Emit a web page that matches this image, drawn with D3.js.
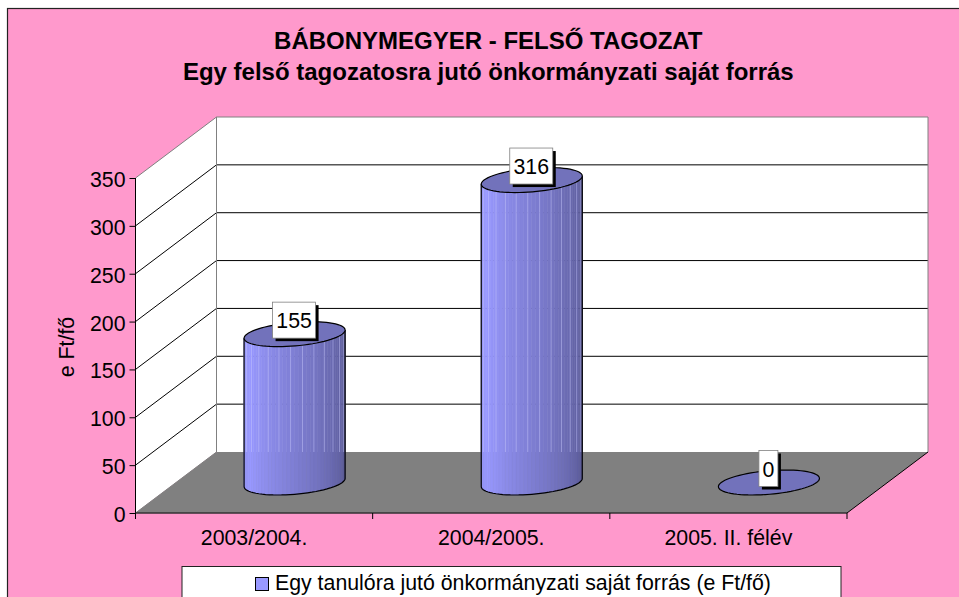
<!DOCTYPE html>
<html>
<head>
<meta charset="utf-8">
<script src="https://cdn.jsdelivr.net/npm/d3@7"></script>
<style>
  html, body { margin: 0; padding: 0; background: #fff; }
  svg { display: block; }
  text { font-family: "Liberation Sans", Arial, sans-serif; fill: #000; }
</style>
</head>
<body>
<div id="chart"></div>
<script>
const categories = ["2003/2004.", "2004/2005.", "2005. II. félév"];
const values = [155, 316, 0];
const valueTicks = [0, 50, 100, 150, 200, 250, 300, 350];
const titleLines = ["BÁBONYMEGYER - FELSŐ TAGOZAT", "Egy felső tagozatosra jutó önkormányzati saját forrás"];
const yAxisTitle = "e Ft/fő";
const legendLabel = "Egy tanulóra jutó önkormányzati saját forrás (e Ft/fő)";

const width = 959, height = 597;
const front = { left: 135.5, right: 847, bottom: 513, top: 178 };
const depth = { x: 81, y: -61 };
const labelSize = 21.3;

const svg = d3.select("#chart").append("svg")
  .attr("width", width).attr("height", height);

const x = d3.scaleBand().domain(categories).range([front.left, front.right]);
const y = d3.scaleLinear().domain([0, 350]).range([front.bottom, front.top]);

// shift a front-plane point back into the box, v goes 0..1
const px = (fx, v) => fx + depth.x * v;
const py = (fy, v) => fy + depth.y * v;
const pts = a => a.map(p => p.join(",")).join(" ");

// background
svg.append("rect").attr("x", 7.5).attr("y", 8.5)
  .attr("width", width + 10).attr("height", height + 10)
  .attr("fill", "#ff99cc").attr("stroke", "#222").attr("stroke-width", 1.2);

// walls and floor
svg.append("polygon")
  .attr("points", pts([[px(front.left, 0), y(0)], [px(front.left, 0), y(350)], [px(front.left, 1), py(y(350), 1)], [px(front.left, 1), py(y(0), 1)]]))
  .attr("fill", "#fff");
svg.append("polygon")
  .attr("points", pts([[px(front.left, 1), py(y(0), 1)], [px(front.left, 1), py(y(350), 1)], [px(front.right, 1), py(y(350), 1)], [px(front.right, 1), py(y(0), 1)]]))
  .attr("fill", "#fff");
svg.append("polygon")
  .attr("points", pts([[front.left, y(0)], [px(front.left, 1), py(y(0), 1)], [px(front.right, 1), py(y(0), 1)], [front.right, y(0)]]))
  .attr("fill", "#808080");

// grid lines
svg.append("g").selectAll("polyline")
  .data(valueTicks.slice(1, -1))
  .enter().append("polyline")
  .attr("fill", "none").attr("stroke", "#000").attr("stroke-width", 1)
  .attr("points", d => pts([[front.left, y(d)], [px(front.left, 1), py(y(d), 1)], [px(front.right, 1), py(y(d), 1)]]));

// wall outlines in gray
svg.append("polyline").attr("fill", "none").attr("stroke", "#808080").attr("stroke-width", 1)
  .attr("points", pts([[front.left, y(350)], [px(front.left, 1), py(y(350), 1)], [px(front.right, 1), py(y(350), 1)], [px(front.right, 1), py(y(0), 1)]]));
svg.append("line").attr("stroke", "#808080")
  .attr("x1", px(front.left, 1)).attr("x2", px(front.left, 1))
  .attr("y1", py(y(350), 1)).attr("y2", py(y(0), 1));
svg.append("line").attr("stroke", "#808080")
  .attr("x1", front.left).attr("x2", px(front.left, 1))
  .attr("y1", y(0)).attr("y2", py(y(0), 1));
svg.append("line").attr("stroke", "#000")
  .attr("x1", front.right).attr("x2", px(front.right, 1))
  .attr("y1", y(0)).attr("y2", py(y(0), 1));

// axes
const yAxis = d3.axisLeft(y).tickValues(valueTicks).tickSize(6).tickPadding(4);
const yG = svg.append("g").attr("transform", `translate(${front.left},0)`).call(yAxis);
yG.selectAll("text").attr("font-size", labelSize).attr("dy", "0.4em");
yG.selectAll("line,path").attr("stroke", "#000");
yG.select("path").attr("d", `M0,${y(0)}V${y(350)}`);

const xAxis = d3.axisBottom(x).tickSize(0).tickPadding(17);
const xG = svg.append("g").attr("transform", `translate(0,${front.bottom})`).call(xAxis);
xG.selectAll("text").attr("font-size", labelSize);
xG.select("path").attr("stroke", "#333").attr("stroke-width", 1.5).attr("d", `M${front.left},0H${front.right}`);
xG.selectAll(".tick line").remove();
svg.append("g").selectAll("line")
  .data([0, 1, 2, 3])
  .enter().append("line")
  .attr("stroke", "#000")
  .attr("x1", d => front.left + d * x.bandwidth()).attr("x2", d => front.left + d * x.bandwidth())
  .attr("y1", y(0)).attr("y2", y(0) + 6);

// cylinders: circle in the floor plane gives a skewed ellipse
const radU = 47.7, radV = 0.205;
const ell = (cx, cy, t) => [cx + radU * Math.cos(t) + depth.x * radV * Math.sin(t), cy + depth.y * radV * Math.sin(t)];
const tanT = Math.atan2(depth.x * radV, radU);
const nStrips = 40;
const shade = d3.scaleLinear().domain([0, 0.15, 1]).range(["#9292f4", "#9999ff", "#565690"]);
const ringPath = (cx, cy) => {
  const p = d3.range(0, 73).map(i => ell(cx, cy, i / 72 * 2 * Math.PI));
  return d3.line()(p) + "Z";
};

const bars = svg.append("g").selectAll("g")
  .data(categories.map((c, i) => ({ c, v: values[i] })))
  .enter().append("g");

bars.each(function (d) {
  const g = d3.select(this);
  const cx = x(d.c) + x.bandwidth() / 2 + depth.x / 2;
  const cy0 = y(0) + depth.y / 2;
  const h = y(0) - y(d.v);
  const cyT = cy0 - h;
  if (h > 0) {
    // front half of the round wall, tangent to tangent
    const tA = tanT, tB = tanT + Math.PI;
    const strips = d3.range(nStrips);
    g.selectAll("polygon").data(strips).enter().append("polygon")
      .attr("points", i => {
        const a = tB + (i / nStrips) * Math.PI, b = tB + ((i + 1) / nStrips) * Math.PI;
        const p1 = ell(cx, cy0, a), p2 = ell(cx, cy0, b);
        return pts([[p1[0], p1[1] - h], [p2[0], p2[1] - h], p2, p1]);
      })
      .attr("fill", i => shade(i / nStrips))
      .attr("stroke", i => shade(i / nStrips))
      .attr("stroke-width", 0.6);
    // faint lighter seams, they stop at the back edge of the floor
    g.selectAll("line.seam").data(strips.filter(i => i % 3 === 1)).enter().append("line")
      .attr("class", "seam")
      .attr("x1", i => ell(cx, cy0, tB + (i / nStrips) * Math.PI)[0])
      .attr("x2", i => ell(cx, cy0, tB + (i / nStrips) * Math.PI)[0])
      .attr("y1", i => ell(cx, cy0, tB + (i / nStrips) * Math.PI)[1] - h)
      .attr("y2", py(y(0), 1))
      .attr("stroke", "#c4c4fa").attr("stroke-opacity", 0.6).attr("stroke-width", 0.8);
    const tt = d3.range(0, 37).map(i => ell(cx, cy0, tB + (i / 36) * Math.PI));
    const l = ell(cx, cyT, tB), r = ell(cx, cyT, tA + 2 * Math.PI);
    g.append("path").attr("fill", "none").attr("stroke", "#000").attr("stroke-width", 1.2)
      .attr("d", `M${l[0]},${l[1]}` + d3.line()(tt).replace("M", "L") + `L${r[0]},${r[1]}`);
  }
  g.append("path").attr("d", ringPath(cx, cyT))
    .attr("fill", "#7272bb").attr("stroke", "#000").attr("stroke-width", 1.2);

  // value label with hard shadow
  const boxW = d.v === 0 ? 19 : 43, boxH = 36;
  const bx = cx - boxW / 2 - 0.5, by = cyT - 32;
  g.append("rect").attr("x", bx + 3).attr("y", by + 3).attr("width", boxW).attr("height", boxH).attr("fill", "#000");
  g.append("rect").attr("x", bx).attr("y", by).attr("width", boxW).attr("height", boxH)
    .attr("fill", "#fff").attr("stroke", "#808080").attr("stroke-width", 0.8);
  g.append("text").attr("x", bx + boxW / 2).attr("y", by + 26)
    .attr("text-anchor", "middle").attr("font-size", labelSize).text(d.v);
});

// titles
svg.append("g").selectAll("text")
  .data(titleLines)
  .enter().append("text")
  .attr("x", 488.3).attr("y", (d, i) => 48.5 + i * 31.5)
  .attr("text-anchor", "middle").attr("font-size", 24).attr("font-weight", "bold")
  .text(d => d);

svg.append("text")
  .attr("transform", "translate(74,347) rotate(-90)")
  .attr("text-anchor", "middle").attr("font-size", labelSize).text(yAxisTitle);

// legend, runs off the bottom of the page like the original
svg.append("rect").attr("x", 182).attr("y", 566.5).attr("width", 659).attr("height", 50)
  .attr("fill", "#fff").attr("stroke", "#222").attr("stroke-width", 1);
svg.append("rect").attr("x", 255.5).attr("y", 577.5).attr("width", 13).attr("height", 13)
  .attr("fill", "#9999ff").attr("stroke", "#000").attr("stroke-width", 1);
svg.append("text").attr("x", 275).attr("y", 590).attr("font-size", labelSize).text(legendLabel);
</script>
</body>
</html>
